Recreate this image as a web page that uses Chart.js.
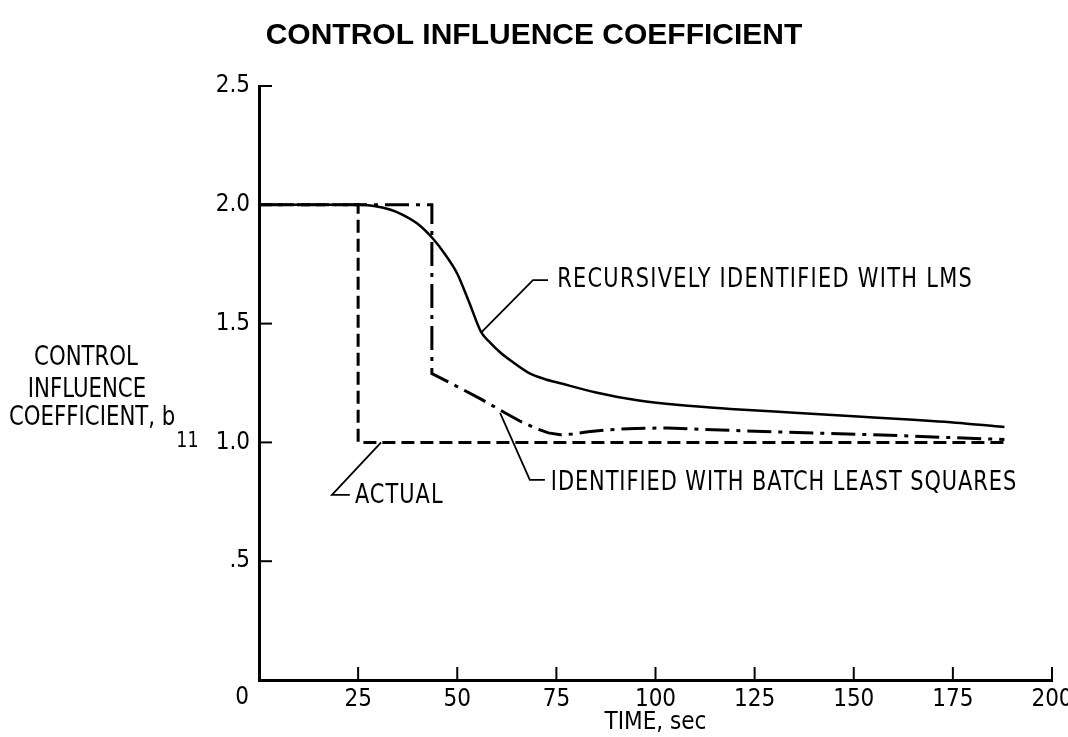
<!DOCTYPE html>
<html>
<head>
<meta charset="utf-8">
<title>Control influence coefficient</title>
<script src="https://cdn.jsdelivr.net/npm/chart.js@4.4.1/dist/chart.umd.min.js"></script>
<style>
  html, body { margin: 0; padding: 0; background: #fff; }
  #wrap { width: 1068px; height: 737px; position: relative; }
</style>
</head>
<body>
<div id="wrap"><canvas id="chart" width="1068" height="737"></canvas></div>
<script>
// ---- text ----
const chartTitle = 'CONTROL INFLUENCE COEFFICIENT';
const yTitleLines = ['CONTROL', 'INFLUENCE', 'COEFFICIENT, b'];
const yTitleSubscript = '11';
const xTitle = 'TIME, sec';
const originLabel = '0';
const yTickLabels = ['', '.5', '1.0', '1.5', '2.0', '2.5'];
const lmsLabel = 'RECURSIVELY IDENTIFIED WITH LMS';
const batchLabel = 'IDENTIFIED WITH BATCH LEAST SQUARES';
const actualLabel = 'ACTUAL';

// ---- data: time (sec) and coefficient b11 ----
const actualTime  = [0, 25, 25, 189];
const actualValue = [2.0, 2.0, 1.0, 1.0];

const batchTime  = [0, 43.6, 43.6, 50, 56, 62, 66, 70, 73, 76, 79, 83, 88, 95, 103, 111, 131, 157, 188];
const batchValue = [2.0, 2.0, 1.29, 1.235, 1.182, 1.125, 1.088, 1.058, 1.04, 1.032, 1.035, 1.045, 1.053, 1.059, 1.061, 1.055, 1.044, 1.031, 1.012];

const lmsTime  = [0, 25, 29, 33, 36, 40, 44, 47, 50, 53, 56, 58, 61, 64, 68, 72, 76, 85, 95, 106, 120, 135, 150, 165, 178, 188];
const lmsValue = [2.0, 2.0, 1.995, 1.98, 1.96, 1.92, 1.855, 1.79, 1.71, 1.59, 1.465, 1.425, 1.376, 1.338, 1.293, 1.267, 1.249, 1.21, 1.178, 1.157, 1.14, 1.125, 1.11, 1.095, 1.08, 1.065];

const toPoints = (xs, ys) => xs.map((x, i) => ({ x, y: ys[i] }));

const COND = '"DejaVu Sans Condensed", "DejaVu Sans", sans-serif';
const BOLD = '"Liberation Sans", Arial, Helvetica, sans-serif';

// leader lines (in data units) ending next to each label
const callouts = [
  { text: lmsLabel,    path: [[56.2, 1.465], [69.1, 1.683], [72.9, 1.683]], textAt: [75.2, 1.683], spacing: 1.5 },
  { text: batchLabel,  path: [[60.8, 1.124], [68.3, 0.842], [72.1, 0.842]], textAt: [73.6, 0.829], spacing: 1.1 },
  { text: actualLabel, path: [[30.8, 1.0],   [18.4, 0.779], [22.9, 0.779]], textAt: [24.2, 0.774], spacing: 1.2 }
];

// lettering: tall, narrow strokes
function drawText(ctx, text, x, y, size, sx, align, spacing) {
  ctx.save();
  ctx.font = size + 'px ' + COND;
  if ('letterSpacing' in ctx) ctx.letterSpacing = (spacing || 0) + 'px';
  ctx.textAlign = align;
  ctx.textBaseline = 'middle';
  ctx.translate(x, y);
  ctx.scale(sx, 1);
  ctx.fillText(text, 0, 0);
  const w = ctx.measureText(text).width * sx;
  ctx.restore();
  return w;
}

const decorations = {
  id: 'decorations',
  afterDraw(chart) {
    const { ctx, chartArea, scales: { x, y } } = chart;
    const line = (pts) => {
      ctx.beginPath();
      pts.forEach(([px, py], i) => i ? ctx.lineTo(px, py) : ctx.moveTo(px, py));
      ctx.stroke();
    };
    ctx.save();
    ctx.fillStyle = '#000';
    ctx.strokeStyle = '#000';
    ctx.lineCap = 'butt';

    // title
    ctx.font = 'bold 30px ' + BOLD;
    ctx.textAlign = 'center';
    ctx.textBaseline = 'middle';
    ctx.fillText(chartTitle, chart.width / 2, 36);

    // inward tick marks
    ctx.lineWidth = 2;
    y.ticks.forEach(t => {
      if (t.value === 0) return;
      const py = y.getPixelForValue(t.value);
      line([[chartArea.left, py], [chartArea.left + 13, py]]);
    });
    x.ticks.forEach(t => {
      if (t.value === 0) return;
      const px = x.getPixelForValue(t.value);
      line([[px, chartArea.bottom], [px, chartArea.bottom - 13]]);
    });

    // shared origin label
    drawText(ctx, originLabel, x.getPixelForValue(0) - 17, chartArea.bottom + 18, 24, 1, 'center', 0);

    // y-axis title (three lines, subscript on the last)
    drawText(ctx, yTitleLines[0], 86, 358, 26, 0.91, 'center', 0);
    drawText(ctx, yTitleLines[1], 87, 390, 26, 0.91, 'center', 0);
    const w = drawText(ctx, yTitleLines[2], 9, 418, 26, 0.91, 'left', 0);
    drawText(ctx, yTitleSubscript, 9 + w + 1, 441, 22, 0.88, 'left', 0);

    // callouts
    ctx.lineWidth = 1.8;
    callouts.forEach(c => {
      line(c.path.map(([t, v]) => [x.getPixelForValue(t), y.getPixelForValue(v)]));
      drawText(ctx, c.text, x.getPixelForValue(c.textAt[0]), y.getPixelForValue(c.textAt[1]), 27, 0.86, 'left', c.spacing);
    });
    ctx.restore();
  }
};

new Chart(document.getElementById('chart'), {
  type: 'line',
  data: {
    datasets: [
      {
        label: 'Actual',
        data: toPoints(actualTime, actualValue),
        borderColor: '#000', borderWidth: 3, borderDash: [13, 6],
        pointRadius: 0, tension: 0, fill: false
      },
      {
        label: 'Identified with batch least squares',
        data: toPoints(batchTime, batchValue),
        borderColor: '#000', borderWidth: 3, borderDash: [24, 7, 4, 7],
        pointRadius: 0, tension: 0, fill: false
      },
      {
        label: 'Recursively identified with LMS',
        data: toPoints(lmsTime, lmsValue),
        borderColor: '#000', borderWidth: 2.5,
        pointRadius: 0, cubicInterpolationMode: 'monotone', fill: false
      }
    ]
  },
  options: {
    responsive: false,
    animation: false,
    devicePixelRatio: 1,
    layout: { autoPadding: false, padding: { left: 0, right: 16, top: 86, bottom: 0 } },
    plugins: { legend: { display: false }, title: { display: false }, tooltip: { enabled: false } },
    scales: {
      x: {
        type: 'linear', min: 0, max: 200,
        afterFit: s => { s.height = 57; s.paddingLeft = 0; s.paddingRight = 0; },
        grid: { display: false, drawTicks: false },
        border: { display: true, color: '#000', width: 3 },
        ticks: {
          stepSize: 25, padding: 5, color: '#000',
          font: { family: COND, size: 24 },
          maxRotation: 0, autoSkip: false,
          callback: (v) => v === 0 ? '' : String(v)
        },
        title: {
          display: true, text: xTitle, color: '#000',
          font: { family: COND, size: 24 }, padding: { top: 0, bottom: 0 }
        }
      },
      y: {
        type: 'linear', min: 0, max: 2.5,
        afterFit: s => { s.width = 259; s.paddingTop = 0; s.paddingBottom = 0; },
        grid: { display: false, drawTicks: false },
        border: { display: true, color: '#000', width: 3 },
        ticks: {
          stepSize: 0.5, padding: 9, color: '#000',
          font: { family: COND, size: 24 },
          callback: (v, i) => yTickLabels[i]
        }
      }
    }
  },
  plugins: [decorations]
});
</script>
</body>
</html>
